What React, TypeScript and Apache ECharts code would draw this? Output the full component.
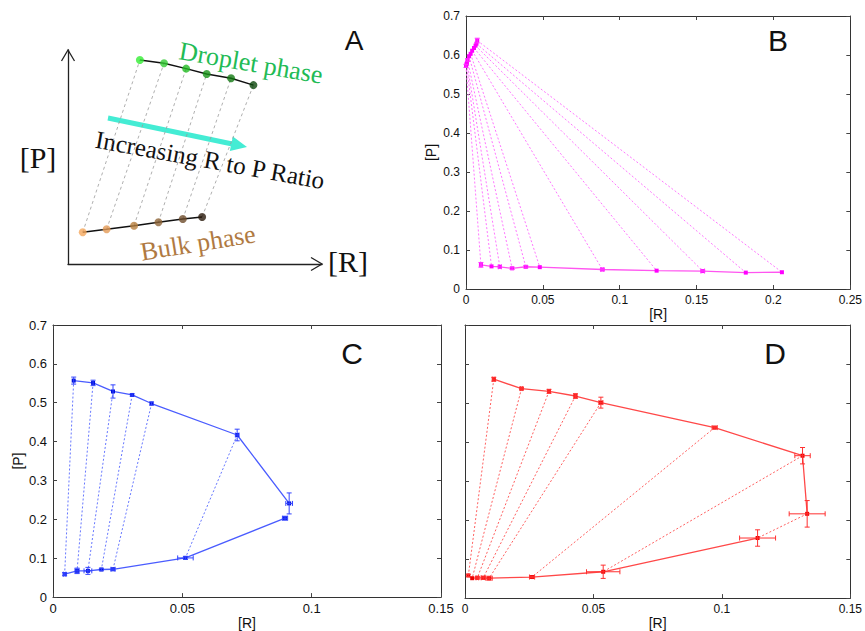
import React, { useEffect, useRef } from "react";
import * as echarts from "echarts";

const SANS = "'Liberation Sans', Arial, Helvetica, sans-serif";
const SERIF = "'Liberation Serif', 'Times New Roman', serif";

// ---------- Panel A (schematic, arbitrary 0-100 units) ----------
const aDropR = [28.3, 37.8, 46.5, 54.6, 64.2, 73.0];
const aDropP = [95.3, 93.8, 91.3, 88.8, 86.8, 83.6];
const aBulkR = [5.8, 15.2, 26.0, 35.6, 45.2, 52.8];
const aBulkP = [14.8, 16.2, 17.9, 19.5, 21.0, 22.0];
const aDropColors = ["#33ee33", "#33cc33", "#22bb22", "#179417", "#137a13", "#0b470b"];
const aBulkColors = ["#f5a75c", "#e39b58", "#b8803f", "#8f6538", "#6e4c2c", "#2a1a0c"];

// ---------- Panel B ----------
const bTopR = [0.0, 0.0003, 0.0006, 0.001, 0.002, 0.003, 0.004, 0.0052, 0.0062, 0.0068, 0.0073];
const bTopP = [0.572, 0.576, 0.58, 0.587, 0.597, 0.603, 0.611, 0.618, 0.624, 0.629, 0.637];
const bTopRErr = [0, 0, 0, 0, 0, 0, 0, 0, 0, 0, 0];
const bTopPErr = [0.004, 0, 0, 0.003, 0, 0, 0, 0, 0, 0, 0.006];
const bBotR = [0.0097, 0.0166, 0.022, 0.03, 0.0389, 0.048, 0.0887, 0.124, 0.154, 0.182, 0.2055];
const bBotP = [0.062, 0.058, 0.057, 0.053, 0.057, 0.056, 0.05, 0.047, 0.046, 0.042, 0.043];
const bBotRErr = [0.0005, 0, 0.001, 0, 0, 0, 0.001, 0, 0.0012, 0, 0];
const bBotPErr = [0.006, 0, 0, 0.003, 0.003, 0, 0.002, 0, 0.002, 0, 0];

// ---------- Panel C ----------
const cTopR = [0.008, 0.0155, 0.0232, 0.0306, 0.0381, 0.0712, 0.0913];
const cTopP = [0.557, 0.551, 0.529, 0.52, 0.498, 0.417, 0.241];
const cTopRErr = [0, 0, 0, 0, 0, 0.0007, 0.0013];
const cTopPErr = [0.009, 0.007, 0.017, 0.003, 0.004, 0.015, 0.027];
const cBotR = [0.0045, 0.0093, 0.0135, 0.0187, 0.0232, 0.0512, 0.0897];
const cBotP = [0.059, 0.0675, 0.0675, 0.071, 0.0716, 0.1008, 0.203];
const cBotRErr = [0.0005, 0.0008, 0.0015, 0, 0.0008, 0.003, 0.001];
const cBotPErr = [0.004, 0.007, 0.009, 0.003, 0.003, 0.004, 0.005];
const cTieCount = 6;

// ---------- Panel D ----------
const dTopR = [0.0112, 0.022, 0.0327, 0.043, 0.0529, 0.0972, 0.1314, 0.1332];
const dTopP = [0.561, 0.537, 0.53, 0.518, 0.501, 0.437, 0.365, 0.216];
const dTopRErr = [0.0005, 0.0005, 0.0005, 0.0005, 0.0008, 0.001, 0.003, 0.007];
const dTopPErr = [0.005, 0.003, 0.005, 0.006, 0.014, 0.003, 0.021, 0.034];
const dBotR = [0.0013, 0.0028, 0.0048, 0.0071, 0.0094, 0.0261, 0.0538, 0.1139];
const dBotP = [0.058, 0.051, 0.052, 0.052, 0.051, 0.054, 0.0675, 0.154];
const dBotRErr = [0, 0, 0.0005, 0.0008, 0.0012, 0.001, 0.0065, 0.007];
const dBotPErr = [0.003, 0, 0.003, 0.004, 0.005, 0.002, 0.017, 0.021];
const dTieCount = 8;

const fmt = (v: number) => String(parseFloat(v.toFixed(3)));

function pts(r: number[], p: number[]) {
  return r.map((x, i) => [x, p[i]]);
}

function makeAxes(gi: number, xmax: number, xint: number, ymax: number, yint: number, showY: boolean, fs: number, nameGapX: number) {
  const lineStyle = { color: "#333", width: 1 };
  const tick = { show: true, inside: true, length: 4, lineStyle: { color: "#444" } };
  const lbl = { fontSize: fs, color: "#111", fontFamily: SANS, formatter: fmt };
  const x = {
    type: "value", gridIndex: gi, min: 0, max: xmax, interval: xint, position: "bottom",
    axisLine: { show: true, onZero: false, lineStyle }, axisTick: tick,
    axisLabel: { ...lbl, margin: 5 }, splitLine: { show: false },
    name: "[R]", nameLocation: "middle", nameGap: nameGapX,
    nameTextStyle: { fontSize: 14, color: "#111", fontFamily: SANS },
  };
  const x2 = {
    type: "value", gridIndex: gi, min: 0, max: xmax, interval: xint, position: "top",
    axisLine: { show: true, onZero: false, lineStyle }, axisTick: tick,
    axisLabel: { show: false }, splitLine: { show: false },
  };
  const y = {
    type: "value", gridIndex: gi, min: 0, max: ymax, interval: yint, position: "left",
    axisLine: { show: true, onZero: false, lineStyle }, axisTick: tick,
    axisLabel: { ...lbl, show: showY, margin: 6 }, splitLine: { show: false },
    name: showY ? "[P]" : "", nameLocation: "middle", nameGap: 28,
    nameTextStyle: { fontSize: 14, color: "#111", fontFamily: SANS },
  };
  const y2 = {
    type: "value", gridIndex: gi, min: 0, max: ymax, interval: yint, position: "right",
    axisLine: { show: true, onZero: false, lineStyle }, axisTick: tick,
    axisLabel: { show: false }, splitLine: { show: false },
  };
  return { xs: [x, x2], ys: [y, y2] };
}

function tieSeries(xi: number, yi: number, r1: number[], p1: number[], r2: number[], p2: number[], n: number, color: string, width = 1, dash: any = [2, 2]) {
  const out: any[] = [];
  for (let i = 0; i < n; i++) {
    out.push({
      type: "line", xAxisIndex: xi, yAxisIndex: yi,
      data: [[r1[i], p1[i]], [r2[i], p2[i]]],
      symbol: "none", silent: true, z: 1,
      lineStyle: { color, width, type: dash },
    });
  }
  return out;
}

function curveSeries(xi: number, yi: number, r: number[], p: number[], lineColor: string, ptColor: string) {
  return {
    type: "line", xAxisIndex: xi, yAxisIndex: yi, data: pts(r, p),
    symbol: "rect", symbolSize: 4, showSymbol: true, silent: true, z: 3,
    lineStyle: { color: lineColor, width: 1.3 },
    itemStyle: { color: ptColor },
  };
}

function errSeries(xi: number, yi: number, r: number[], p: number[], er: number[], ep: number[], color: string) {
  return {
    type: "custom", xAxisIndex: xi, yAxisIndex: yi, silent: true, z: 4,
    data: r.map((x, i) => [x, p[i], er[i], ep[i]]),
    encode: { x: 0, y: 1 },
    renderItem: (_params: any, api: any) => {
      const x = api.value(0), y = api.value(1), ex = api.value(2), ey = api.value(3);
      const style = { stroke: color, lineWidth: 1 };
      const ch: any[] = [];
      const cap = 2.5;
      if (ey > 0) {
        const t = api.coord([x, y + ey]);
        const b = api.coord([x, y - ey]);
        ch.push({ type: "line", shape: { x1: t[0], y1: t[1], x2: b[0], y2: b[1] }, style });
        ch.push({ type: "line", shape: { x1: t[0] - cap, y1: t[1], x2: t[0] + cap, y2: t[1] }, style });
        ch.push({ type: "line", shape: { x1: b[0] - cap, y1: b[1], x2: b[0] + cap, y2: b[1] }, style });
      }
      if (ex > 0) {
        const l = api.coord([x - ex, y]);
        const rr = api.coord([x + ex, y]);
        ch.push({ type: "line", shape: { x1: l[0], y1: l[1], x2: rr[0], y2: rr[1] }, style });
        ch.push({ type: "line", shape: { x1: l[0], y1: l[1] - cap, x2: l[0], y2: l[1] + cap }, style });
        ch.push({ type: "line", shape: { x1: rr[0], y1: rr[1] - cap, x2: rr[0], y2: rr[1] + cap }, style });
      }
      return { type: "group", children: ch };
    },
  };
}

function buildOption() {
  const grids = [
    { left: 68, top: 50, width: 254, height: 214 },
    { left: 466, top: 16, width: 386, height: 273 },
    { left: 53, top: 325, width: 388, height: 274 },
    { left: 465, top: 325, width: 387, height: 274 },
  ];

  // Panel A axes
  const aX = {
    type: "value", gridIndex: 0, min: 0, max: 100,
    axisLine: { show: true, onZero: false, lineStyle: { color: "#222", width: 1.3 } },
    axisTick: { show: false }, axisLabel: { show: false }, splitLine: { show: false },
  };
  const aY = {
    type: "value", gridIndex: 0, min: 0, max: 100,
    axisLine: { show: true, onZero: false, lineStyle: { color: "#222", width: 1.3 } },
    axisTick: { show: false }, axisLabel: { show: false }, splitLine: { show: false },
  };
  const B = makeAxes(1, 0.25, 0.05, 0.7, 0.1, true, 12, 16);
  const C = makeAxes(2, 0.15, 0.05, 0.7, 0.1, true, 13, 15);
  const D = makeAxes(3, 0.15, 0.05, 0.7, 0.1, false, 12, 15);

  const xAxis = [aX, ...B.xs, ...C.xs, ...D.xs];
  const yAxis = [aY, ...B.ys, ...C.ys, ...D.ys];

  const series: any[] = [];

  // Panel A
  series.push(...tieSeries(0, 0, aBulkR, aBulkP, aDropR, aDropP, aDropR.length, "#9a9a9a", 0.8, [3, 3]));
  series.push({
    type: "line", xAxisIndex: 0, yAxisIndex: 0, data: pts(aDropR, aDropP), symbol: "none",
    lineStyle: { color: "#111", width: 1.5 }, silent: true, z: 2,
  });
  series.push({
    type: "line", xAxisIndex: 0, yAxisIndex: 0, data: pts(aBulkR, aBulkP), symbol: "none",
    lineStyle: { color: "#111", width: 1.5 }, silent: true, z: 2,
  });
  series.push({
    type: "scatter", xAxisIndex: 0, yAxisIndex: 0, symbolSize: 8, silent: true, z: 3,
    data: aDropR.map((x, i) => ({ value: [x, aDropP[i]], itemStyle: { color: aDropColors[i] } })),
  });
  series.push({
    type: "scatter", xAxisIndex: 0, yAxisIndex: 0, symbolSize: 8, silent: true, z: 3,
    data: aBulkR.map((x, i) => ({ value: [x, aBulkP[i]], itemStyle: { color: aBulkColors[i] } })),
  });

  // Panel B
  series.push(...tieSeries(1, 1, bTopR, bTopP, bBotR, bBotP, bTopR.length, "#ff77ff"));
  series.push(curveSeries(1, 1, bTopR, bTopP, "#ff55f0", "#ff00ff"));
  series.push(curveSeries(1, 1, bBotR, bBotP, "#ff55f0", "#ff00ff"));
  series.push(errSeries(1, 1, bTopR, bTopP, bTopRErr, bTopPErr, "#ff33ff"));
  series.push(errSeries(1, 1, bBotR, bBotP, bBotRErr, bBotPErr, "#ff33ff"));

  // Panel C
  series.push(...tieSeries(3, 3, cTopR, cTopP, cBotR, cBotP, cTieCount, "#6677ff"));
  series.push(curveSeries(3, 3, cTopR, cTopP, "#4a5cff", "#0010dd"));
  series.push(curveSeries(3, 3, cBotR, cBotP, "#4a5cff", "#0010dd"));
  series.push(errSeries(3, 3, cTopR, cTopP, cTopRErr, cTopPErr, "#3344ff"));
  series.push(errSeries(3, 3, cBotR, cBotP, cBotRErr, cBotPErr, "#3344ff"));

  // Panel D
  series.push(...tieSeries(5, 5, dTopR, dTopP, dBotR, dBotP, dTieCount, "#ff6060"));
  series.push(curveSeries(5, 5, dTopR, dTopP, "#ff4848", "#ee0000"));
  series.push(curveSeries(5, 5, dBotR, dBotP, "#ff4848", "#ee0000"));
  series.push(errSeries(5, 5, dTopR, dTopP, dTopRErr, dTopPErr, "#ff3030"));
  series.push(errSeries(5, 5, dBotR, dBotP, dBotRErr, dBotPErr, "#ff3030"));

  // Arrow geometry for panel A (decoration)
  const ax0 = 108, ay0 = 118, ax1 = 247, ay1 = 147;
  const len = Math.hypot(ax1 - ax0, ay1 - ay0);
  const ux = (ax1 - ax0) / len, uy = (ay1 - ay0) / len;
  const hl = 16, hw = 7.5;
  const bx = ax1 - ux * hl, by = ay1 - uy * hl;
  const arrowColor = "#44ecd4";

  const graphic: any[] = [
    // axis chevrons for panel A
    { type: "polyline", shape: { points: [[61.5, 61], [68, 50], [74.5, 61]] }, style: { stroke: "#222", lineWidth: 1.3, fill: "none" } },
    { type: "polyline", shape: { points: [[311, 257.5], [322, 264], [311, 270.5]] }, style: { stroke: "#222", lineWidth: 1.3, fill: "none" } },
    // cyan arrow
    { type: "line", shape: { x1: ax0, y1: ay0, x2: bx + ux * 1, y2: by + uy * 1 }, style: { stroke: arrowColor, lineWidth: 5 } },
    {
      type: "polygon",
      shape: { points: [[ax1, ay1], [bx - uy * hw, by + ux * hw], [bx + uy * hw, by - ux * hw]] },
      style: { fill: arrowColor },
    },
    // texts panel A
    { type: "text", x: 38, y: 157, style: { text: "[P]", font: `30px ${SERIF}`, fill: "#111", align: "center", verticalAlign: "middle" } },
    { type: "text", x: 348, y: 261, style: { text: "[R]", font: `30px ${SERIF}`, fill: "#111", align: "center", verticalAlign: "middle" } },
    { type: "text", x: 251, y: 63, rotation: -0.17, style: { text: "Droplet phase", font: `26px ${SERIF}`, fill: "#22bb55", align: "center", verticalAlign: "middle" } },
    { type: "text", x: 210, y: 160, rotation: -0.18, style: { text: "Increasing R to P Ratio", font: `25px ${SERIF}`, fill: "#111", align: "center", verticalAlign: "middle" } },
    { type: "text", x: 198, y: 243, rotation: 0.16, style: { text: "Bulk phase", font: `26px ${SERIF}`, fill: "#b07a42", align: "center", verticalAlign: "middle" } },
    // panel letters
    { type: "text", x: 354, y: 40, style: { text: "A", font: `28px ${SANS}`, fill: "#111", align: "center", verticalAlign: "middle" } },
    { type: "text", x: 778, y: 40, style: { text: "B", font: `30px ${SANS}`, fill: "#111", align: "center", verticalAlign: "middle" } },
    { type: "text", x: 352, y: 353, style: { text: "C", font: `30px ${SANS}`, fill: "#111", align: "center", verticalAlign: "middle" } },
    { type: "text", x: 775, y: 353, style: { text: "D", font: `30px ${SANS}`, fill: "#111", align: "center", verticalAlign: "middle" } },
  ];

  return {
    animation: false,
    backgroundColor: "#ffffff",
    grid: grids,
    xAxis,
    yAxis,
    series,
    graphic,
  };
}

export default function App() {
  const ref = useRef<HTMLDivElement>(null);
  useEffect(() => {
    document.body.style.margin = "0";
    if (!ref.current) return;
    const chart = echarts.init(ref.current, undefined, { renderer: "svg" });
    chart.setOption(buildOption() as any);
    return () => chart.dispose();
  }, []);
  return <div ref={ref} style={{ width: 865, height: 631 }} />;
}
